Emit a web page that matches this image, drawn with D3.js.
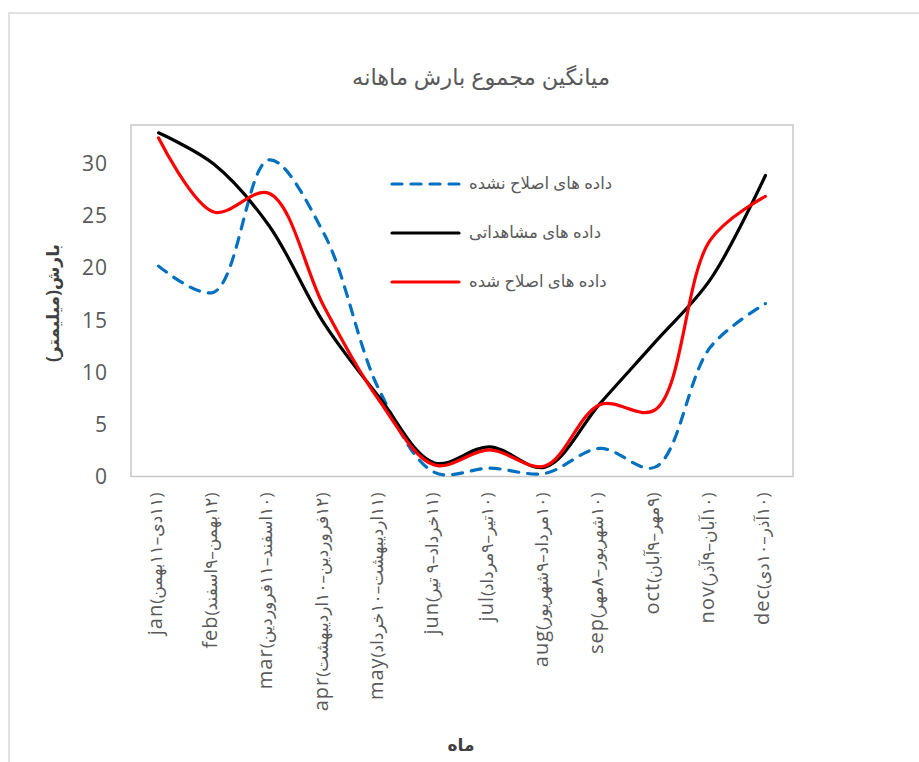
<!DOCTYPE html>
<html>
<head>
<meta charset="utf-8">
<script src="https://cdn.jsdelivr.net/npm/d3@7"></script>
<style>
  html, body { margin: 0; padding: 0; background: #fff; }
  svg { display: block; }
  text { font-family: "Open Sans", "DejaVu Sans", sans-serif; }
</style>
</head>
<body>
<svg id="chart" width="919" height="762"></svg>
<script>
// Months (Gregorian) and the matching Persian date ranges
const months = ["jan", "feb", "mar", "apr", "may", "jun", "jul", "aug", "sep", "oct", "nov", "dec"];
const persianRanges = [
  "۱۱دی–۱۱بهمن", "۱۲بهمن–۹اسفند", "۱۰اسفند–۱۱فروردین", "۱۲فروردین–۱۰اردیبهشت",
  "۱۱اردیبهشت–۱۰خرداد", "۱۱خرداد–۹ تیر", "۱۰تیر–۹مرداد", "۱۰مرداد–۹شهریور",
  "۱۰شهریور–۸مهر", "۹مهر–۹آبان", "۱۰آبان–۹آذر", "۱۰آذر–۱۰دی"
];

// Mean monthly precipitation (mm)
const unadjusted = [20.2, 17.7, 30.4, 23.3, 8.3, 0.4, 0.8, 0.3, 2.7, 0.9, 12.4, 16.6];
const observed   = [33.0, 30.0, 24.1, 14.7, 7.6, 1.3, 2.85, 0.9, 7.0, 12.9, 18.9, 28.9];
const adjusted   = [32.5, 25.4, 27.2, 16.3, 7.3, 1.1, 2.55, 1.0, 6.9, 6.4, 22.7, 26.9];

const yTicks = [0, 5, 10, 15, 20, 25, 30];

const seriesNames = ["داده های اصلاح نشده", "داده های مشاهداتی", "داده های اصلاح شده"];
const titleText = "میانگین مجموع بارش ماهانه";
const yTitle = "بارش(میلیمتر)";
const xTitle = "ماه";

const series = [
  { name: seriesNames[0], values: unadjusted, color: "#0070C0", dash: "10,9" },
  { name: seriesNames[1], values: observed,   color: "#000000", dash: null },
  { name: seriesNames[2], values: adjusted,   color: "#FF0000", dash: null }
];

const svg = d3.select("#chart");
const plot = { left: 131, right: 793, top: 125, bottom: 476.5 };

// outer chart frame
svg.append("rect")
  .attr("x", 9).attr("y", 13).attr("width", 960).attr("height", 800)
  .attr("fill", "none").attr("stroke", "#d9d9d9").attr("stroke-width", 1.5);

const x = d3.scaleBand().domain(months).range([plot.left, plot.right]);
const y = d3.scaleLinear().domain([0, 33.75]).range([plot.bottom, plot.top]);
const cx = m => x(m) + x.bandwidth() / 2;

// plot area frame
svg.append("rect")
  .attr("x", plot.left).attr("y", plot.top)
  .attr("width", plot.right - plot.left).attr("height", plot.bottom - plot.top)
  .attr("fill", "none").attr("stroke", "#c8c8c8").attr("stroke-width", 1.5);

// title
svg.append("text")
  .attr("x", 481).attr("y", 85)
  .attr("text-anchor", "middle")
  .attr("font-size", 22.5).attr("fill", "#595959")
  .text(titleText);

// y axis labels
const yAxis = d3.axisLeft(y).tickValues(yTicks).tickSize(0).tickPadding(0);
const gy = svg.append("g").attr("transform", `translate(${plot.left - 23},0)`).call(yAxis);
gy.select(".domain").remove();
gy.selectAll("text")
  .attr("font-size", 21).attr("fill", "#595959")
  .attr("letter-spacing", "1px")
  .style("font-family", "'Open Sans', 'DejaVu Sans', sans-serif");

// x axis labels (rotated): month name + Persian date range
const xAxis = d3.axisBottom(x).tickSize(0).tickPadding(0).tickFormat("");
const gx = svg.append("g").attr("transform", `translate(0,${plot.bottom})`).call(xAxis);
gx.select(".domain").remove();
gx.selectAll(".tick text").each(function(m) {
  const i = months.indexOf(m);
  const t = d3.select(this)
    .attr("transform", "rotate(-90)")
    .attr("text-anchor", "end")
    .attr("x", -16).attr("y", 0).attr("dy", "0.35em")
    .attr("fill", "#595959")
    .style("font-family", "'Open Sans', 'DejaVu Sans', sans-serif");
  t.append("tspan").attr("font-size", 20).attr("letter-spacing", "1px").text(m);
  t.append("tspan").attr("font-size", 17).text(`(\u2067${persianRanges[i]}\u2069)`);
});

// axis titles
svg.append("text")
  .attr("transform", "translate(53,303) rotate(-90)")
  .attr("text-anchor", "middle").attr("dy", "0.35em")
  .attr("font-size", 17).attr("font-weight", "bold").attr("fill", "#404040")
  .text(yTitle);
svg.append("text")
  .attr("x", 461).attr("y", 751)
  .attr("text-anchor", "middle")
  .attr("font-size", 17).attr("font-weight", "bold").attr("fill", "#404040")
  .text(xTitle);

// lines
const line = d3.line()
  .x((d, i) => cx(months[i]))
  .y(d => y(d))
  .curve(d3.curveCatmullRom.alpha(0.5));

series.forEach(s => {
  svg.append("path")
    .datum(s.values)
    .attr("d", line)
    .attr("fill", "none")
    .attr("stroke", s.color)
    .attr("stroke-width", 3.2)
    .attr("stroke-linecap", "round")
    .attr("stroke-linejoin", "round")
    .attr("stroke-dasharray", s.dash);
});

// legend
const legendY = [184, 233, 282];
series.forEach((s, i) => {
  svg.append("line")
    .attr("x1", 392).attr("x2", 459)
    .attr("y1", legendY[i]).attr("y2", legendY[i])
    .attr("stroke", s.color).attr("stroke-width", 3.2)
    .attr("stroke-linecap", "round")
    .attr("stroke-dasharray", s.dash);
  svg.append("text")
    .attr("x", 469).attr("y", legendY[i]).attr("dy", "0.32em")
    .attr("font-size", 16.5).attr("fill", "#595959")
    .text(s.name);
});
</script>
</body>
</html>
